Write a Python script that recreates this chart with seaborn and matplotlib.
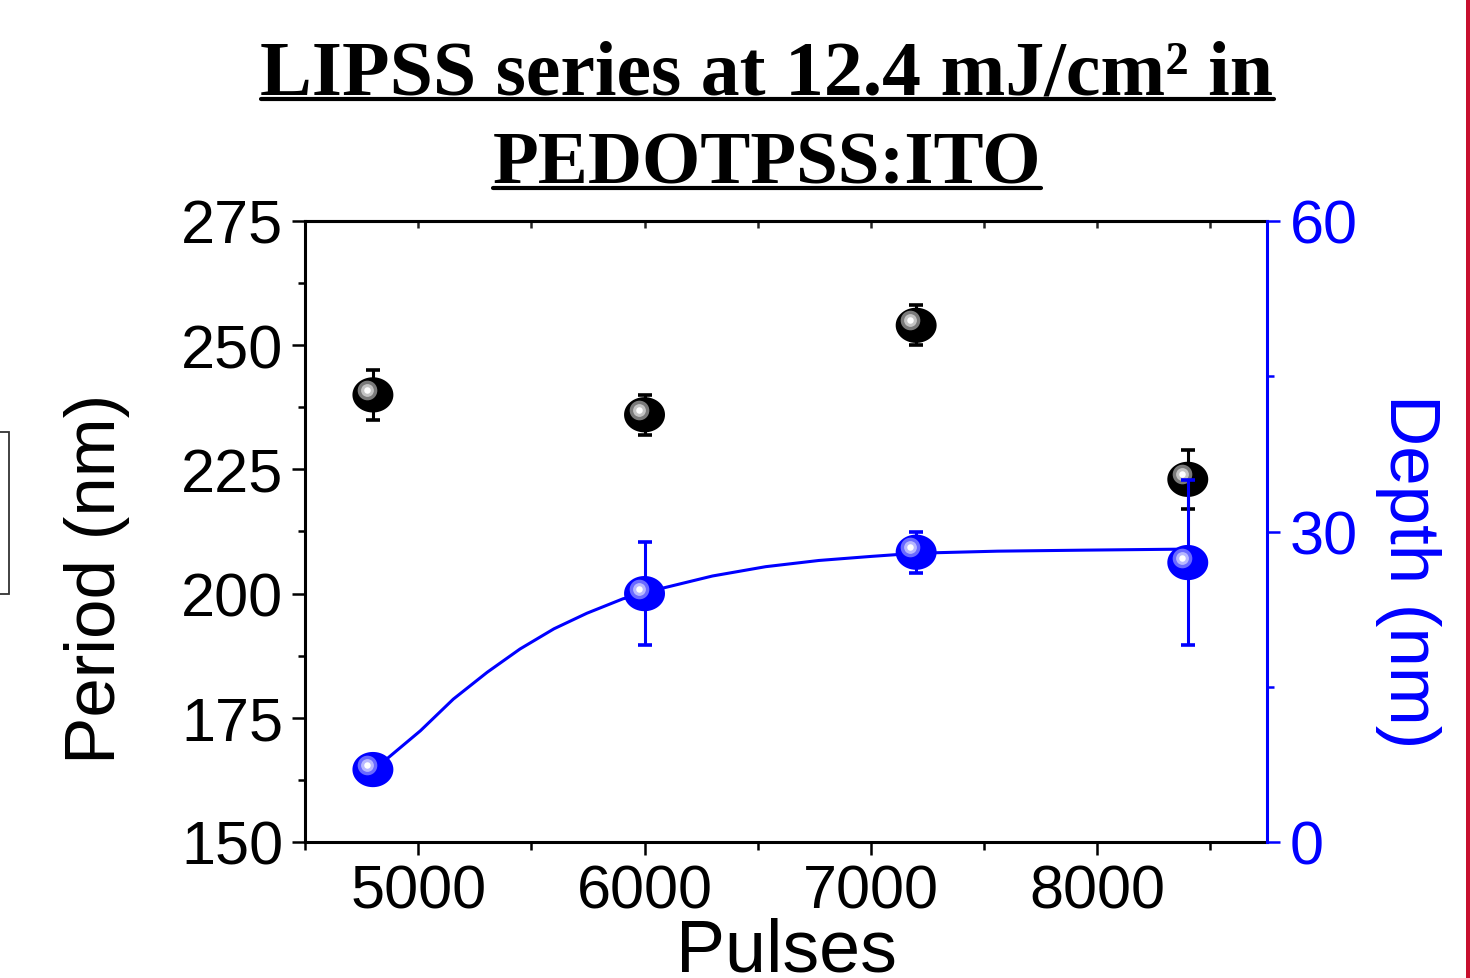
import numpy as np
import matplotlib
matplotlib.use("Agg")
import matplotlib.pyplot as plt
import matplotlib.transforms as mtransforms
from matplotlib.path import Path
from matplotlib.lines import Line2D
from matplotlib.patches import Rectangle
from matplotlib.ticker import MultipleLocator
import seaborn as sns

# values
pulses = [4800, 6000, 7200, 8400]
period_nm = [240, 236, 254, 223]
period_err = [5, 4, 4, 6]
depth_nm = [7.0, 24.0, 28.0, 27.0]
depth_err = [0.0, 5.0, 2.0, 8.0]

# fitted curve
fit_pulses = [4800, 4860, 5010, 5155, 5305, 5450, 5600, 5745, 5905, 6000,
              6075, 6300, 6535, 6770, 7005, 7200, 7560, 7950, 8400]
fit_depth = [7.0, 8.0, 10.75, 13.8, 16.4, 18.65, 20.6, 22.1, 23.5, 24.0,
             24.5, 25.7, 26.6, 27.2, 27.6, 27.9, 28.1, 28.2, 28.3]

BLUE = "#0000ff"

sns.set_style("ticks")
plt.rcParams["font.family"] = ["Liberation Sans", "DejaVu Sans"]
plt.rcParams["text.color"] = "black"
plt.rcParams["axes.labelcolor"] = "black"

fig = plt.figure(figsize=(14.7, 9.79), dpi=100)
ax = fig.add_axes([305 / 1470, 1 - 843 / 979, 962 / 1470, 621 / 979])
ax2 = ax.twinx()

# slightly flattened sphere marker
t = np.linspace(0, 2 * np.pi, 60)
ellipse = Path(np.column_stack([np.cos(t), 0.86 * np.sin(t)]), closed=True)


def sphere(axis, xs, ys, base, ring, inner):
    sns.scatterplot(x=xs, y=ys, ax=axis, marker=ellipse, s=870, color=base,
                    edgecolor="none", linewidth=0, zorder=4, legend=False)
    shift = mtransforms.offset_copy(axis.transData, fig=fig, x=-6, y=5, units="dots")
    axis.scatter(xs, ys, marker="o", s=200, color=ring, linewidth=0, transform=shift, zorder=5)
    axis.scatter(xs, ys, marker="o", s=85, color=inner, linewidth=0, transform=shift, zorder=6)
    axis.scatter(xs, ys, marker="o", s=22, color="white", linewidth=0, transform=shift, zorder=7)


# period (left axis)
ax.errorbar(pulses, period_nm, yerr=period_err, fmt="none", ecolor="black",
            elinewidth=2.2, capsize=5, capthick=2.6, zorder=3)
sphere(ax, pulses, period_nm, "black", "#7a7a7a", "#c4c4c4")

# depth (right axis)
sns.lineplot(x=fit_pulses, y=fit_depth, ax=ax2, color=BLUE, linewidth=2.2, zorder=3)
ax2.errorbar(pulses, depth_nm, yerr=depth_err, fmt="none", ecolor=BLUE,
             elinewidth=2.2, capsize=5, capthick=2.6, zorder=3)
sphere(ax2, pulses, depth_nm, BLUE, "#6a6aff", "#b8b8ff")

ax.set_xlim(4500, 8750)
ax.set_ylim(150, 275)
ax2.set_ylim(0, 60)

ax.xaxis.set_major_locator(MultipleLocator(1000))
ax.xaxis.set_minor_locator(MultipleLocator(500))
ax.yaxis.set_major_locator(MultipleLocator(25))
ax.yaxis.set_minor_locator(MultipleLocator(12.5))
ax2.yaxis.set_major_locator(MultipleLocator(30))
ax2.yaxis.set_minor_locator(MultipleLocator(15))

for s in ["left", "bottom", "top"]:
    ax.spines[s].set_linewidth(2.2)
    ax.spines[s].set_color("black")
ax.spines["right"].set_visible(False)
for s in ["left", "bottom", "top"]:
    ax2.spines[s].set_visible(False)
ax2.spines["right"].set_linewidth(2.2)
ax2.spines["right"].set_color(BLUE)

ax.tick_params(axis="both", which="major", direction="out", length=9.5, width=1.8,
               labelsize=44, color="black", labelcolor="black")
ax.tick_params(axis="x", which="major", pad=6)
ax.tick_params(axis="y", which="major", pad=6)
ax.tick_params(axis="both", which="minor", direction="out", length=5, width=1.8, color="black")
ax.tick_params(axis="x", which="minor", length=5.5)
ax2.tick_params(axis="y", which="major", direction="out", length=9.5, width=1.8,
                labelsize=44, color=BLUE, labelcolor=BLUE, pad=7)
ax2.tick_params(axis="y", which="minor", direction="out", length=5, width=1.8, color=BLUE)

# inward ticks along the top edge
top = ax.secondary_xaxis("top")
top.xaxis.set_major_locator(MultipleLocator(500))
top.tick_params(axis="x", which="major", direction="in", length=5, width=1.8, labeltop=False)
top.spines["top"].set_linewidth(2.2)

ax.set_xlabel("Pulses", fontsize=53, va="baseline")
ax.xaxis.set_label_coords(0.5, (843 - 972) / 621)
ax.set_ylabel("Period (nm)", fontsize=51, va="center", ha="center")
ax.yaxis.set_label_coords((97 - 305) / 962, (843 - 579) / 621)
ax2.set_ylabel("Depth (nm)", fontsize=51, rotation=270, va="center", ha="center", color=BLUE)
ax2.yaxis.set_label_coords((1408 - 305) / 962, (843 - 571) / 621)

# two-line underlined title
title_kw = dict(ha="center", va="baseline", fontfamily=["Liberation Serif", "DejaVu Serif"],
                fontweight="bold", color="black")
t1 = fig.text(767 / 1470, 1 - 95 / 979, "LIPSS series at 12.4 mJ/cm² in", fontsize=56, **title_kw)
t2 = fig.text(767 / 1470, 1 - 184 / 979, "PEDOTPSS:ITO", fontsize=54, **title_kw)

fig.canvas.draw()
renderer = fig.canvas.get_renderer()
for txt, y_px in [(t1, 100), (t2, 189)]:
    bb = txt.get_window_extent(renderer)
    fig.add_artist(Line2D([bb.x0 / 1470, bb.x1 / 1470], [1 - y_px / 979] * 2,
                          color="black", linewidth=3, transform=fig.transFigure))

# page decorations visible at the edges of the reference
fig.add_artist(Line2D([1467.5 / 1470] * 2, [0, 1], color="#c8102e", linewidth=3.6,
                      transform=fig.transFigure))
fig.add_artist(Rectangle((-0.01, 1 - 595 / 979), 0.01 + 9 / 1470, 162 / 979, fill=False,
                         edgecolor="#333333", linewidth=1.3, transform=fig.transFigure))

fig.savefig("out.png", dpi=100)
